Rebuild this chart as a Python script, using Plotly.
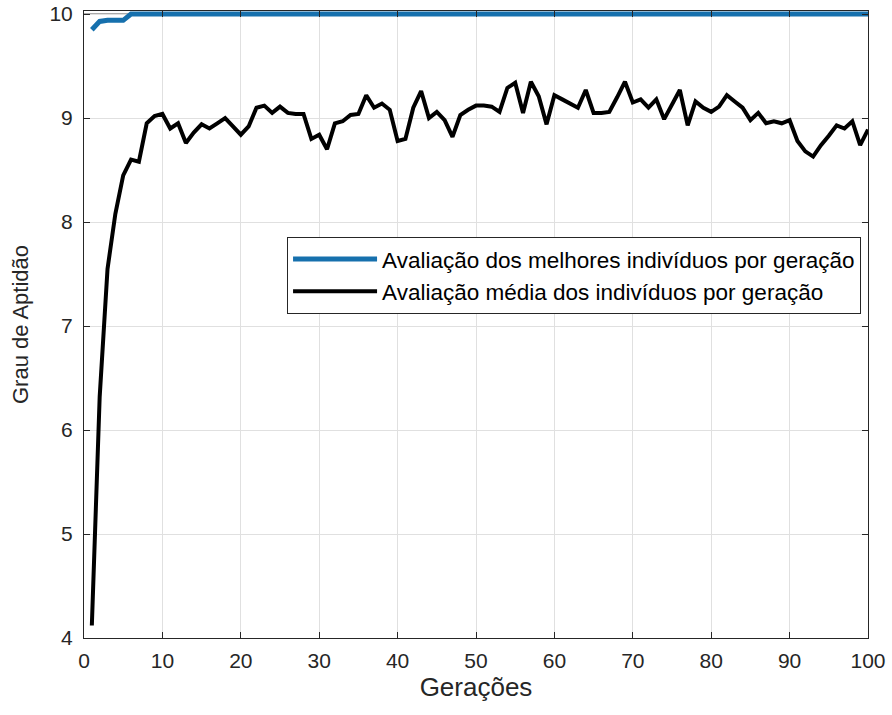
import plotly.graph_objects as go

generations = list(range(1, 101))

best_fitness = [9.85, 9.93, 9.94, 9.94, 9.94] + [10.0] * 95

mean_fitness = [
    4.12, 6.32, 7.55, 8.08, 8.45, 8.60, 8.58, 8.95, 9.02, 9.04,
    8.90, 8.95, 8.76, 8.86, 8.94, 8.90, 8.95, 9.00, 8.92, 8.84,
    8.92, 9.10, 9.12, 9.05, 9.11, 9.05, 9.04, 9.04, 8.80, 8.84,
    8.70, 8.95, 8.97, 9.03, 9.04, 9.22, 9.10, 9.14, 9.08, 8.78,
    8.80, 9.10, 9.26, 9.00, 9.06, 8.98, 8.82, 9.03, 9.08, 9.12,
    9.12, 9.11, 9.06, 9.29, 9.34, 9.05, 9.35, 9.21, 8.94, 9.22,
    9.18, 9.14, 9.10, 9.27, 9.05, 9.05, 9.06, 9.20, 9.35, 9.15,
    9.18, 9.10, 9.18, 8.99, 9.13, 9.27, 8.93, 9.16, 9.10, 9.06,
    9.11, 9.22, 9.16, 9.10, 8.98, 9.05, 8.95, 8.97, 8.95, 8.98,
    8.78, 8.68, 8.63, 8.74, 8.83, 8.93, 8.90, 8.97, 8.74, 8.89,
]

x_ticks = [0, 10, 20, 30, 40, 50, 60, 70, 80, 90, 100]
y_ticks = [4, 5, 6, 7, 8, 9, 10]

name_best = "Avaliação dos melhores indivíduos por geração"
name_mean = "Avaliação média dos indivíduos por geração"

font_family = "Liberation Sans, Arial, sans-serif"
axis_color = "#262626"
grid_color = "#e0e0e0"
text_color = "#262626"

fig = go.Figure()
fig.add_trace(go.Scatter(
    x=generations, y=best_fitness, mode="lines", name=name_best,
    line=dict(color="#1670ad", width=5),
))
fig.add_trace(go.Scatter(
    x=generations, y=mean_fitness, mode="lines", name=name_mean,
    line=dict(color="#000000", width=4),
))

# top frame line at y = 10 (range slightly extended so the line at 10 is not clipped)
fig.add_shape(type="line", xref="x", yref="y", x0=0, x1=100, y0=10, y1=10,
              line=dict(color=axis_color, width=1), layer="below")

common = dict(
    showgrid=True, gridcolor=grid_color, gridwidth=1,
    showline=True, linecolor=axis_color, linewidth=1,
    ticks="inside", ticklen=6, tickcolor=axis_color, tickwidth=1,
    tickfont=dict(family=font_family, size=21, color=text_color),
    zeroline=False, automargin=False, ticklabeloverflow="allow",
)

fig.update_xaxes(
    range=[0, 100], tickvals=x_ticks, mirror="ticks",
    title=dict(text="Gerações", font=dict(family=font_family, size=26, color=text_color), standoff=6),
    ticklabelstandoff=4,
    **common,
)
fig.update_yaxes(
    range=[4, 10.03], tickvals=y_ticks, mirror="ticks",
    title=dict(text="Grau de Aptidão", font=dict(family=font_family, size=22, color=text_color), standoff=14),
    ticklabelstandoff=6,
    **common,
)

fig.update_layout(
    width=892, height=715,
    margin=dict(l=84, r=24, t=11, b=77),
    paper_bgcolor="white", plot_bgcolor="white",
    showlegend=True,
    legend=dict(
        x=0.259, y=0.6396, xanchor="left", yanchor="top",
        bgcolor="white", bordercolor="#262626", borderwidth=1,
        font=dict(family=font_family, size=22.5, color="#000000"),
        itemwidth=84, tracegroupgap=0,
    ),
)

# remove the default page margin so the figure fills the 892x715 window exactly
fig.write_html(
    "out.html",
    config={"displayModeBar": False},
    post_script="document.body.style.margin='0px';",
)
